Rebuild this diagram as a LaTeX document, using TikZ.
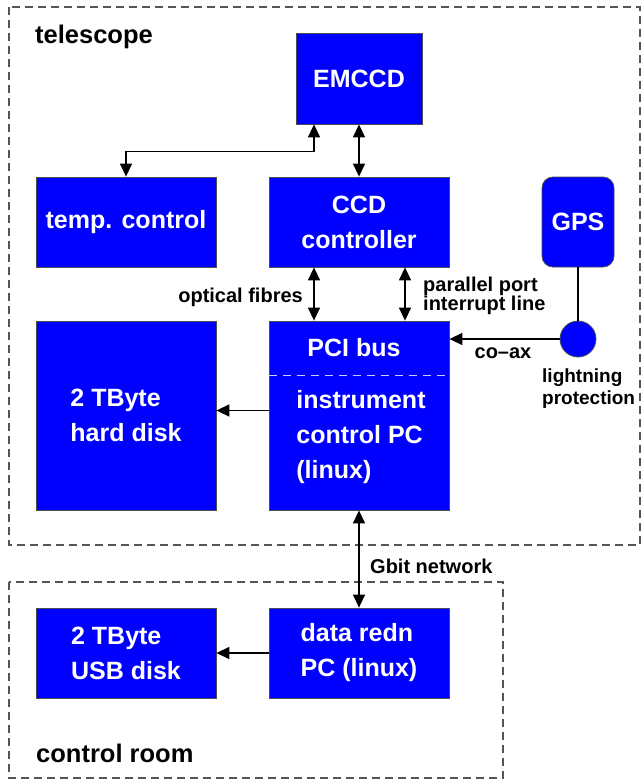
\documentclass[tikz,border=0pt]{standalone}
\usepackage{fontspec}
\setmainfont{Liberation Sans}
\usetikzlibrary{arrows.meta,calc}
\definecolor{boxblue}{RGB}{0,0,255}
\definecolor{frame}{RGB}{85,85,85}
\begin{document}
\begin{tikzpicture}[x=1pt,y=-1pt,
  blk/.style={draw=black!70,line width=0.8pt,fill=boxblue,text=white,
    font=\fontsize{25}{35}\selectfont\bfseries,inner sep=0pt},
  lbl/.style={font=\fontsize{20}{19}\selectfont\bfseries,inner sep=0pt},
  ttl/.style={font=\fontsize{25.5}{30}\selectfont\bfseries,inner sep=0pt,anchor=west},
  area/.style={draw=frame,line width=1.2pt,dash pattern=on 8pt off 5pt},
  conn/.style={line width=1.4pt,-{Triangle[length=13pt,width=12pt]}},
  dconn/.style={line width=1.4pt,{Triangle[length=13pt,width=12pt]}-{Triangle[length=13pt,width=12pt]}}]
\useasboundingbox (0,0) rectangle (641,779);
% areas
\draw[area] (9,7) rectangle (640,545);
\draw[area] (9,582) rectangle (503,778);
\node[ttl] (tel) at (35,37) {telescope};
\node[ttl] (cr) at (36,753) {control room};
% blocks
\node[blk,minimum width=126pt,minimum height=91pt] (emccd) at (359,78.5) {EMCCD};
\node[blk,minimum width=180pt,minimum height=90pt] (temp) at (126,222) {temp. control};
\node[blk,minimum width=180pt,minimum height=90pt,align=center] (ccd) at (359,222) {CCD\\controller};
\node[blk,minimum width=72pt,minimum height=90pt,rounded corners=11pt] (gps) at (578,222) {GPS};
\node[blk,minimum width=180pt,minimum height=189pt,align=left] (hd) at (126,415.5) {2 TByte\\hard disk};
\node[blk,minimum width=180pt,minimum height=189pt] (pc) at (359,415.5) {};
\node[blk,circle,minimum size=36pt] (lp) at (578,339) {};
\node[blk,minimum width=180pt,minimum height=90pt,align=left] (usb) at (126,653) {2 TByte\\USB disk};
\node[blk,minimum width=180pt,minimum height=90pt,align=left] (dr) at (359,653) {data redn\\PC (linux)};
% PC inner text
\draw[white!80!boxblue,line width=1pt,dash pattern=on 8pt off 6pt] (pc.west |- 0,375) coordinate (sl) -- (pc.east |- 0,375) coordinate (sr);
\node[blk,draw=none,fill=none] (pci) at (354,348) {PCI bus};
\node[blk,draw=none,fill=none,align=left,anchor=west] (pctext) at (296,437) {instrument\\control PC\\(linux)};
% connectors
\draw[dconn] ([xshift=-45pt]emccd.south) -- ++(0,27) -| (temp.north);
\draw[dconn] (emccd.south) -- (ccd.north);
\draw[dconn] ([xshift=-45pt]ccd.south) -- ([xshift=-45pt]pc.north);
\draw[dconn] ([xshift=46pt]ccd.south) -- ([xshift=46pt]pc.north);
\draw[line width=1.4pt] (gps.south) -- (lp.north);
\draw[conn] (lp.west) -- (lp.west -| pc.east);
\draw[conn] ([yshift=5pt]pc.west) -- ([yshift=5pt]hd.east);
\draw[dconn] (pc.south) -- (dr.north);
\draw[conn] (dr.west) -- (usb.east);
% labels
\node[lbl,anchor=east] (of) at (303,297) {optical fibres};
\node[lbl,anchor=west,align=left] (pp) at (423,296) {parallel port\\interrupt line};
\node[lbl] (coax) at (503,353) {co--ax};
\node[lbl,anchor=west,align=left,font=\fontsize{19}{22}\selectfont\bfseries] (lpt) at (542,389) {lightning\\protection};
\node[lbl,anchor=west] (gb) at (370,566) {Gbit network};
\end{tikzpicture}
\end{document}
